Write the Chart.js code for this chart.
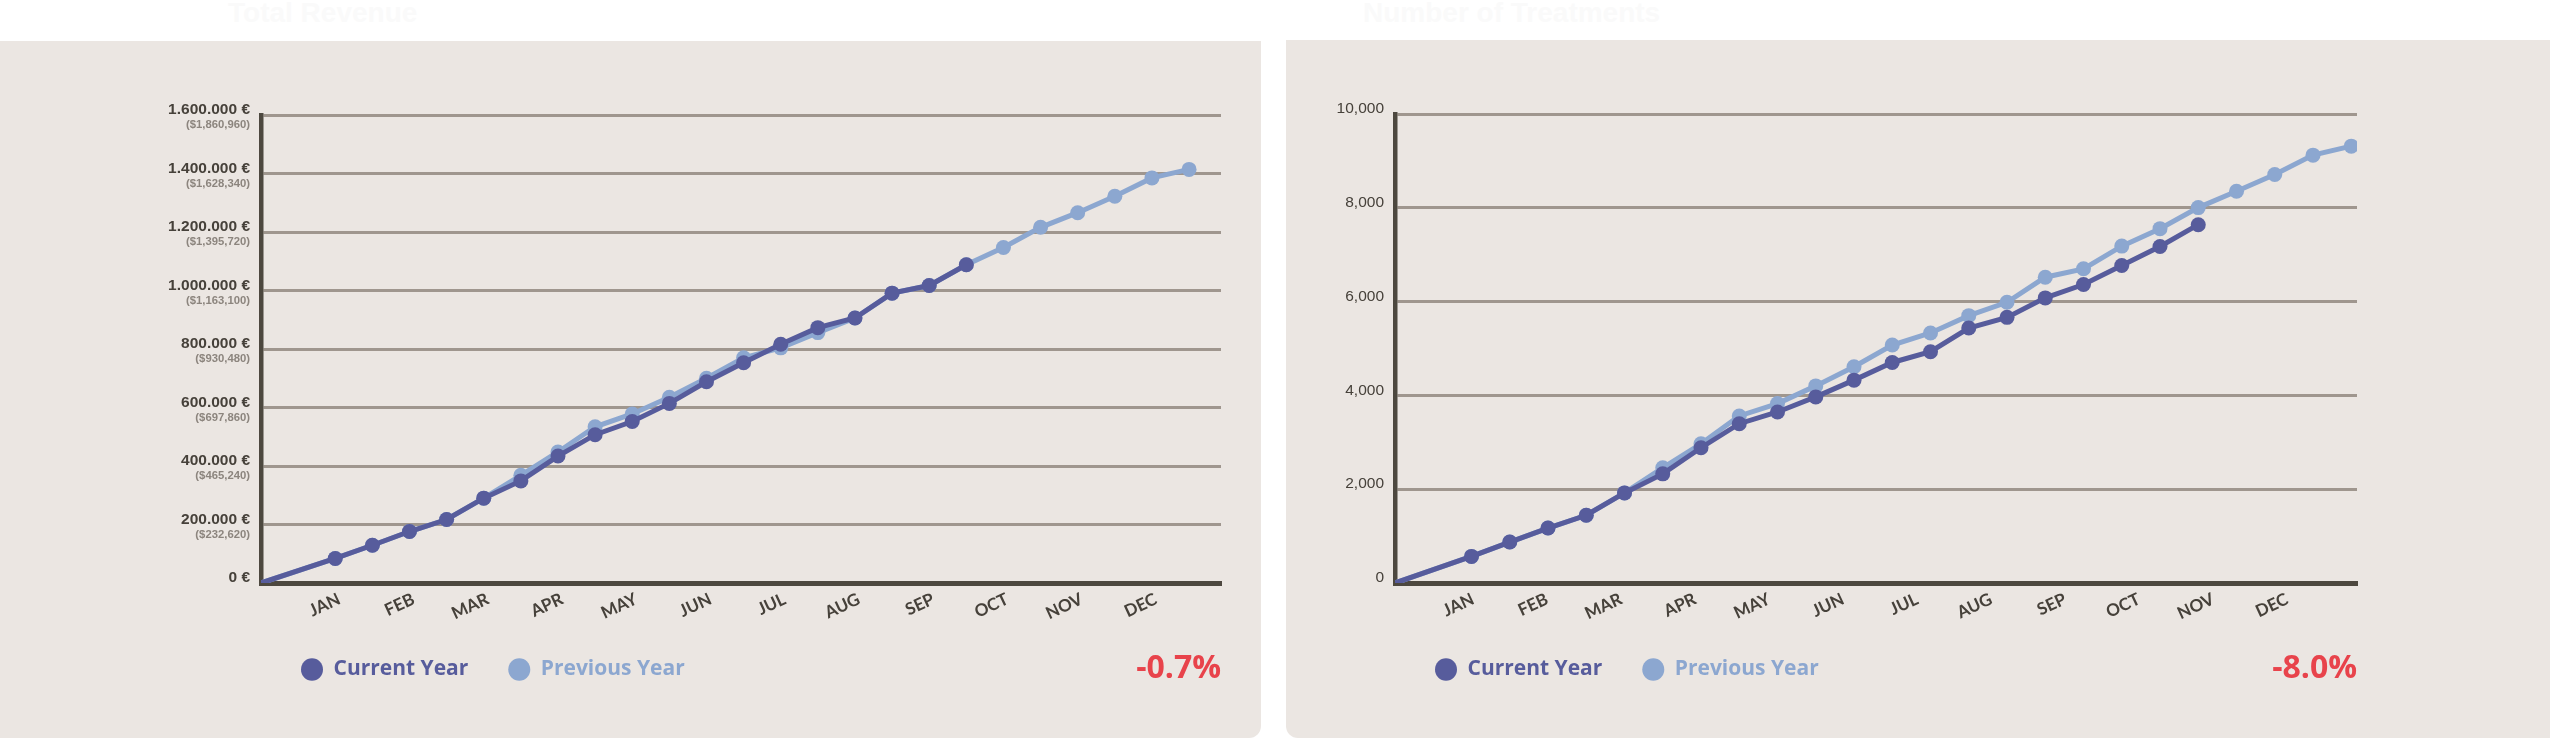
<!DOCTYPE html>
<html><head><meta charset="utf-8">
<script src="https://cdn.jsdelivr.net/npm/chart.js@4.4.1/dist/chart.umd.min.js"></script>
<style>
html,body{margin:0;padding:0;background:#fff;}
body{width:2550px;height:738px;position:relative;overflow:hidden;}
.title{position:absolute;top:-3px;font:bold 28px "Liberation Sans",Arial,sans-serif;color:#fafafa;white-space:nowrap;}
.panel{position:absolute;background:#ebe6e2;overflow:hidden;}
canvas{position:absolute;left:0;top:0;}
</style></head><body>
<div class="title" style="left:228px">Total Revenue</div>
<div class="title" style="left:1363px">Number of Treatments</div>
<div class="panel" style="left:0;top:41px;width:1261px;height:697px;border-radius:0 0 12px 0"><canvas id="rev" width="1261" height="697"></canvas></div>
<div class="panel" style="left:1286px;top:40px;width:1264px;height:698px;border-radius:0 0 0 12px"><canvas id="trt" width="1264" height="698"></canvas></div>
<script>
// ---- data (half-month cumulative values; origin at 0) ----
const months = ['JAN','FEB','MAR','APR','MAY','JUN','JUL','AUG','SEP','OCT','NOV','DEC'];
const seriesNames = ['Current Year', 'Previous Year'];

const revenueCurrent = [84000, 129000, 176000, 217000, 290000, 349000, 434000, 507000, 552000, 614000, 688000, 753000, 816000, 873000, 906000, 991000, 1017000, 1088000];
const revenuePrevious = [84000, 129000, 176000, 217000, 290000, 368000, 448000, 534000, 578000, 635000, 700000, 770000, 804000, 856000, 906000, 991000, 1017000, 1088000, 1147000, 1216000, 1266000, 1322000, 1385000, 1414000];
const revenueTicks = ['0 €', '200.000 €', '400.000 €', '600.000 €', '800.000 €', '1.000.000 €', '1.200.000 €', '1.400.000 €', '1.600.000 €'];
const revenueTicksUsd = ['', '($232,620)', '($465,240)', '($697,860)', '($930,480)', '($1,163,100)', '($1,395,720)', '($1,628,340)', '($1,860,960)'];
const revenueChange = '-0.7%';

const treatmentsCurrent = [567, 873, 1172, 1444, 1921, 2327, 2884, 3397, 3647, 3968, 4325, 4702, 4931, 5437, 5664, 6079, 6364, 6770, 7176, 7640];
const treatmentsPrevious = [567, 873, 1172, 1444, 1921, 2456, 2969, 3562, 3825, 4203, 4610, 5074, 5331, 5700, 5985, 6520, 6699, 7183, 7555, 8004, 8353, 8710, 9123, 9315];
const treatmentTicks = ['0', '2,000', '4,000', '6,000', '8,000', '10,000'];
const treatmentsChange = '-8.0%';

// ---- styling ----
const COL_CUR = '#575c9c';
const COL_PREV = '#8ca7d0';
const COL_AXIS = '#4d483f';
const COL_GRID = '#9f968e';
const COL_TEXT = '#46413a';
const COL_SUB = '#8c857e';
const COL_RED = '#e8434b';
const SANS = '"Liberation Sans", Arial, sans-serif';

function toPoints(values) {
  return [{x: 0, y: 0}].concat(values.map((v, i) => ({x: i + 2, y: v})));
}
function radii(values) {
  return [0].concat(values.map(() => 7.5));
}
function dataset(label, values, color) {
  return {
    label, data: toPoints(values), borderColor: color, backgroundColor: color,
    pointBackgroundColor: color, pointBorderWidth: 0, pointRadius: radii(values),
    pointHoverRadius: radii(values), borderWidth: 5, tension: 0, fill: false
  };
}

const changeLabel = {
  id: 'changeLabel',
  afterDraw(chart, args, opts) {
    const ctx = chart.ctx;
    ctx.save();
    ctx.font = 'bold 32px "Open Sans", sans-serif';
    ctx.fillStyle = COL_RED;
    ctx.textAlign = 'right';
    ctx.textBaseline = 'middle';
    ctx.fillText(opts.text, chart.chartArea.right, chart.chartArea.bottom + opts.dy);
    ctx.restore();
  }
};

function makeChart(id, cur, prev, yMax, yStep, mainTicks, subTicks, change, pad, yWidth, mainWeight, xMax, monthStep) {
  const scales = {
    x: {
      type: 'linear', min: 0, max: xMax,
      grid: {display: false, drawTicks: false},
      border: {display: true, color: COL_AXIS, width: 5},
      afterBuildTicks: (s) => { s.ticks = months.map((m, i) => ({value: (i + 1) * monthStep})); },
      ticks: {
        autoSkip: false, minRotation: 25, maxRotation: 25, padding: 6, labelOffset: 4,
        color: COL_TEXT, font: {family: 'Lato', weight: 'bold', size: 17},
        callback: (v, i) => months[i]
      },
      afterFit: (s) => { s.height = 36; }
    },
    y: {
      min: 0, max: yMax, weight: 1,
      grid: {color: COL_GRID, lineWidth: 3, drawTicks: false},
      border: {display: true, color: COL_AXIS, width: 4.5},
      ticks: {
        stepSize: yStep, padding: 11, labelOffset: -5, color: COL_TEXT,
        font: {family: SANS, weight: mainWeight, size: 15.5},
        callback: (v, i) => mainTicks[i]
      },
      afterFit: (s) => { s.width = yWidth; }
    }
  };
  if (subTicks) {
    // second left axis (zero width, next to the plot) carrying the dollar sub-labels
    scales.y2 = {
      type: 'linear', position: 'left', min: 0, max: yMax, weight: 0,
      grid: {display: false, drawTicks: false},
      border: {display: false},
      ticks: {
        autoSkip: false, stepSize: yStep, padding: 11, labelOffset: 10, color: COL_SUB,
        font: {family: SANS, weight: 'bold', size: 11.3},
        callback: (v, i) => subTicks[i]
      },
      afterFit: (s) => { s.width = 0; s._computeLabelArea = () => null; }
    };
  }
  return new Chart(document.getElementById(id), {
    type: 'line',
    data: {datasets: [dataset(seriesNames[0], cur, COL_CUR), dataset(seriesNames[1], prev, COL_PREV)]},
    options: {
      responsive: false, animation: false, devicePixelRatio: 1,
      layout: {padding: pad},
      scales,
      plugins: {
        tooltip: {enabled: false},
        changeLabel: {text: change, dy: 86},
        legend: {
          position: 'bottom', align: 'start', fullSize: false,
          labels: {
            usePointStyle: true, pointStyleWidth: 22, boxHeight: 16, padding: 40,
            font: {family: 'Open Sans', weight: 'bold', size: 21},
            generateLabels: (chart) => chart.data.datasets.map((ds, i) => ({
              text: ds.label, fillStyle: ds.borderColor, strokeStyle: ds.borderColor,
              lineWidth: 0, pointStyle: 'circle', fontColor: ds.borderColor,
              hidden: false, datasetIndex: i
            }))
          }
        }
      }
    },
    plugins: [changeLabel]
  });
}

makeChart('rev', revenueCurrent, revenuePrevious, 1600000, 200000, revenueTicks, revenueTicksUsd, revenueChange,
  {top: 74, left: 20, right: 40, bottom: 48}, 241, 'bold', 25.86, 2);
makeChart('trt', treatmentsCurrent, treatmentsPrevious, 10000, 2000, treatmentTicks, null, treatmentsChange,
  {top: 74, left: 20, right: 193, bottom: 48}, 89, 'normal', 25.15, 1.935);
</script>
</body></html>
